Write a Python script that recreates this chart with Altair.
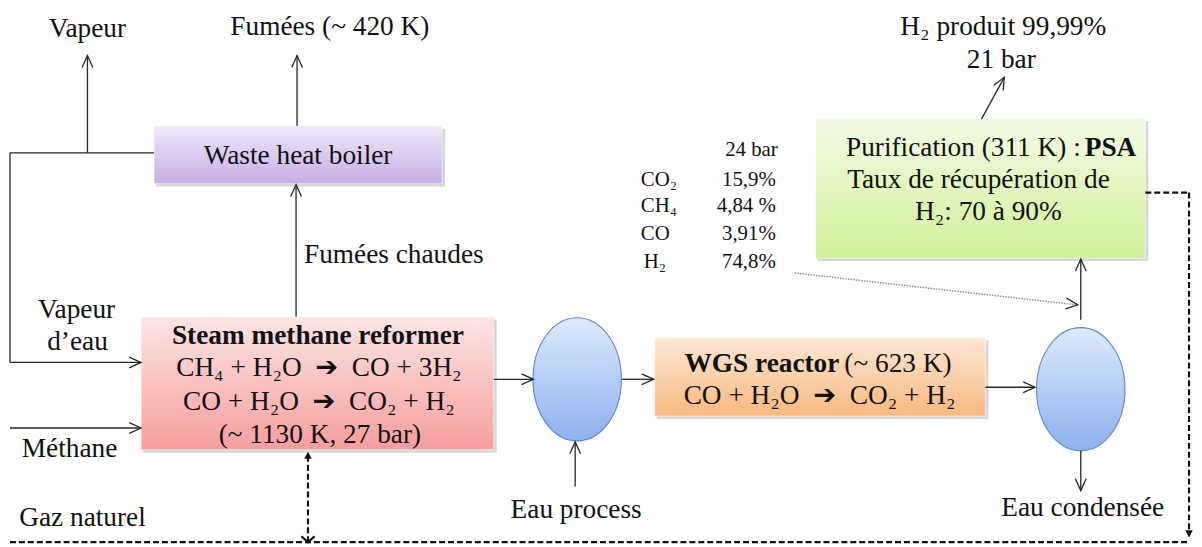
import altair as alt
import pandas as pd

FONT = "Liberation Serif, DejaVu Serif, DejaVu Sans, serif"
NB = "\u00a0"

# ---- coordinate frame (reference pixel space) ----
X0, X1, Y0, Y1 = 8, 1202, 8, 547
W, H = X1 - X0, Y1 - Y0

# ---- process boxes ----
box_x1 = [155, 142, 659, 821]
box_y1 = [125, 317, 338, 117]
box_x2 = [445, 497, 992, 1153]
box_y2 = [183, 451, 417, 258]
box_top = ["#efe9f9", "#fde6e6", "#fde8d6", "#f4fbe6"]
box_bottom = ["#c5aee2", "#f59e9e", "#f8b97f", "#d1f098"]

# ---- separators (ellipses) ----
ell_x = [581, 1088]
ell_y = [380, 390]
ell_h = 124
ell_ratio = 0.718

# ---- connecting segments ----
seg_x1 = [10, 88, 10, 10, 10, 299, 298, 497, 626, 579, 992, 1088, 1088, 988,
          10, 310, 1153, 1197, 800]
seg_y1 = [152, 152, 152, 363, 429, 125, 317, 380, 380, 488, 388, 452, 320, 118,
          544, 544, 192, 192, 273]
seg_x2 = [155, 88, 10, 141, 141, 299, 298, 536, 657, 579, 1041, 1088, 1088, 1011,
          1197, 310, 1197, 1197, 1084]
seg_y2 = [152, 54, 363, 363, 429, 54, 184, 380, 380, 443, 388, 492, 259, 76,
          544, 455, 192, 538, 305]
seg_kind = ["solid"] * 14 + ["dashed"] * 4 + ["dotted"]

# ---- arrow heads ----
ah_x = [88, 142, 142, 299, 298, 537, 658, 579, 1042, 1088, 1088, 1011, 1085, 310, 1197, 310]
ah_y = [54, 363, 429, 54, 184, 380, 380, 443, 388, 492, 259, 76, 305, 453, 539, 544]
ah_angle = [270, 0, 0, 270, 270, 0, 0, 270, 0, 90, 270, 298.7, 6.4, 270, 90, 90]
ah_kind = ["open"] * 13 + ["filled", "filled", "vee"]

# ---- texts ----
ARROW = NB + NB + "➔" + NB + NB
txt_label = [
    "Vapeur", "Fumées (~ 420 K)", "Waste heat boiler", "Fumées chaudes",
    "Vapeur", "d’eau", "Méthane", "Gaz naturel",
    "Steam methane reformer", "CH₄ + H₂O" + ARROW + "CO + 3H₂", "CO + H₂O" + ARROW + "CO₂ + H₂",
    "(~ 1130 K, 27 bar)",
    "WGS reactor", "(~ 623 K)", "CO + H₂O" + ARROW + "CO₂ + H₂",
    "Eau process", "Eau condensée",
    "Purification (311 K) :", "PSA", "Taux de récupération de", "H₂: 70 à 90%",
    "H₂ produit 99,99%", "21 bar",
    "24 bar", "CO₂", "15,9%", "CH₄", "4,84 %", "CO", "3,91%", "H₂", "74,8%",
]
txt_x = [88, 332, 300, 306, 77, 78, 70, 83,
         320, 321, 321, 322,
         845, 850, 825,
         580, 1090,
         1088, 1092, 985, 995,
         1010, 1008,
         783, 645, 781, 645, 781, 645, 781, 648, 781]
txt_y = [35, 33, 163, 263, 318, 350, 458, 528,
         344, 377, 411, 444,
         373, 373, 405,
         520, 518,
         155, 155, 187, 220,
         33, 67,
         155, 185, 185, 212, 212, 240, 240, 268, 268]
txt_align = ["center", "center", "center", "left", "center", "center", "center", "center",
             "center", "center", "center", "center",
             "right", "left", "center",
             "center", "center",
             "right", "left", "center", "center",
             "center", "center",
             "right", "left", "right", "left", "right", "left", "right", "left", "right"]
txt_size = [27.5] * 23 + [21] * 9
txt_bold = [False] * 8 + [True, False, False, False, True, False, False, False, False,
                          False, True, False, False, False, False] + [False] * 9

xs = alt.Scale(domain=[X0, X1], zero=False, nice=False)
ys = alt.Scale(domain=[Y0, Y1], zero=False, nice=False, reverse=True)


def gradient(top, bottom):
    return alt.Gradient(
        gradient="linear", x1=0, y1=0, x2=0, y2=1,
        stops=[alt.GradientStop(color=top, offset=0),
               alt.GradientStop(color=bottom, offset=1)],
    )


layers = []

# box shadows + boxes
for i in range(len(box_x1)):
    d = pd.DataFrame({"x": [box_x1[i]], "y": [box_y1[i]], "x2": [box_x2[i]], "y2": [box_y2[i]]})
    sh = alt.Chart(d).mark_rect(color="#8c8c8c", opacity=0.35).encode(
        x=alt.X("sx:Q", scale=xs, axis=None), x2="sx2:Q",
        y=alt.Y("sy:Q", scale=ys, axis=None), y2="sy2:Q",
    ).transform_calculate(sx="datum.x + 2", sx2="datum.x2 + 3", sy="datum.y + 3", sy2="datum.y2 + 3")
    layers.append(sh)
    bx = alt.Chart(d).mark_rect(fill=gradient(box_top[i], box_bottom[i]),
                                stroke="#ffffff", strokeWidth=1, strokeOpacity=0.6).encode(
        x=alt.X("x:Q", scale=xs, axis=None), x2="x2:Q",
        y=alt.Y("y:Q", scale=ys, axis=None), y2="y2:Q",
    )
    layers.append(bx)

# ellipses
rx = ell_ratio
ELLIPSE = f"M 0 -1 A {rx} 1 0 1 1 0 1 A {rx} 1 0 1 1 0 -1 Z"
ell_df = pd.DataFrame({"x": ell_x, "y": ell_y})
layers.append(
    alt.Chart(ell_df).mark_point(
        shape=ELLIPSE, size=ell_h ** 2, filled=True, opacity=1,
        fill=gradient("#dfe9fa", "#8cb1ee"), stroke="#5f83c4", strokeWidth=1.1,
    ).encode(x=alt.X("x:Q", scale=xs, axis=None), y=alt.Y("y:Q", scale=ys, axis=None))
)

# segments
seg_df = pd.DataFrame({"x": seg_x1, "y": seg_y1, "x2": seg_x2, "y2": seg_y2, "kind": seg_kind})
seg_styles = {
    "solid": dict(color="#262626", strokeWidth=1.3),
    "dashed": dict(color="#111111", strokeWidth=2.2, strokeDash=[6, 3]),
    "dotted": dict(color="#8a8a8a", strokeWidth=1.4, strokeDash=[1.5, 1.2]),
}
for k, st in seg_styles.items():
    layers.append(
        alt.Chart(seg_df).transform_filter(alt.datum.kind == k).mark_rule(**st).encode(
            x=alt.X("x:Q", scale=xs, axis=None), x2="x2:Q",
            y=alt.Y("y:Q", scale=ys, axis=None), y2="y2:Q",
        )
    )

# arrow heads
ah_df = pd.DataFrame({"x": ah_x, "y": ah_y, "angle": ah_angle, "kind": ah_kind})
ah_styles = {
    "open": dict(shape="M -1 -0.45 L 0 0 L -1 0.45", size=576, filled=False,
                 color="#262626", strokeWidth=1.3),
    "filled": dict(shape="M -1 -0.55 L 0 0 L -1 0.55 Z", size=196, filled=True,
                   color="#111111"),
    "vee": dict(shape="M -1 -1.1 L 0 0 L -1 1.1", size=144, filled=False,
                color="#111111", strokeWidth=2.2),
}
for k, st in ah_styles.items():
    layers.append(
        alt.Chart(ah_df).transform_filter(alt.datum.kind == k).mark_point(opacity=1, **st).encode(
            x=alt.X("x:Q", scale=xs, axis=None),
            y=alt.Y("y:Q", scale=ys, axis=None),
            angle=alt.Angle("angle:Q", scale=None),
        )
    )

# texts
txt_df = pd.DataFrame({"x": txt_x, "y": txt_y, "label": txt_label, "align": txt_align,
                       "size": txt_size, "bold": txt_bold})
for al in ["left", "center", "right"]:
    for b in [False, True]:
        sub = txt_df[(txt_df["align"] == al) & (txt_df["bold"] == b)]
        if len(sub) == 0:
            continue
        layers.append(
            alt.Chart(sub).mark_text(
                align=al, baseline="alphabetic", font=FONT, color="#111111",
                fontWeight="bold" if b else "normal",
            ).encode(
                x=alt.X("x:Q", scale=xs, axis=None),
                y=alt.Y("y:Q", scale=ys, axis=None),
                text="label:N",
                size=alt.Size("size:Q", scale=None, legend=None),
            )
        )

chart = alt.layer(*layers).properties(
    width=W, height=H, padding=0, autosize="none", background="white"
).configure_view(strokeWidth=0)

chart.save("out.html", embed_options={"renderer": "svg", "actions": False})
